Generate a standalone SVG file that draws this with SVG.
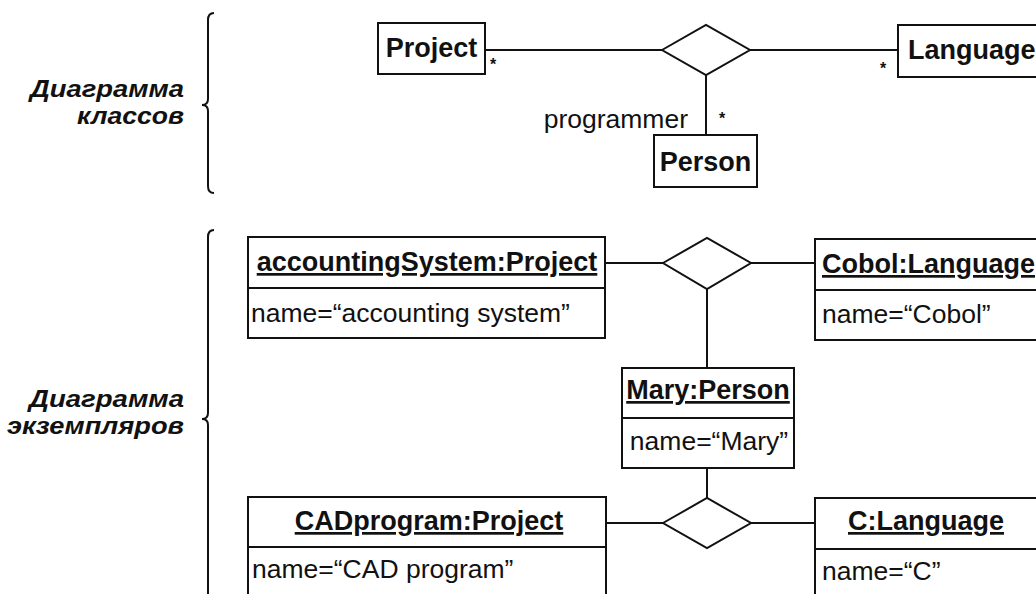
<svg xmlns="http://www.w3.org/2000/svg" width="1036" height="594" viewBox="0 0 1036 594">
  <style>
    .box { fill: #fff; stroke: #111; stroke-width: 2; }
    .div { stroke: #111; stroke-width: 2; }
    .conn { stroke: #111; stroke-width: 2; fill: none; }
    .dia { fill: #fff; stroke: #111; stroke-width: 2; }
    .brace { fill: none; stroke: #111; stroke-width: 2; }
    .cls { font-family: "Liberation Sans", Arial, sans-serif; font-weight: bold; font-size: 27px; fill: #111; }
    .obj { font-family: "Liberation Sans", Arial, sans-serif; font-weight: bold; font-size: 27px; fill: #111; text-decoration: underline; }
    .attr { font-family: "Liberation Sans", Arial, sans-serif; font-size: 26.5px; fill: #111; }
    .mult { font-family: "Liberation Sans", Arial, sans-serif; font-weight: bold; font-size: 16px; fill: #111; }
    .sect { font-family: "Liberation Sans", Arial, sans-serif; font-weight: bold; font-style: italic; font-size: 23px; fill: #111; }
  </style>

  <!-- section labels with braces -->
  <g id="label-classes">
    <text class="sect" x="184" y="97" text-anchor="end" textLength="154" lengthAdjust="spacingAndGlyphs">Диаграмма</text>
    <text class="sect" x="184" y="124" text-anchor="end" textLength="107" lengthAdjust="spacingAndGlyphs">классов</text>
    <path class="brace" d="M214,13 Q208,13 208,20 L208,99 Q208,105 202,105 Q208,105 208,111 L208,186 Q208,193 214,193"/>
  </g>
  <g id="label-instances">
    <text class="sect" x="184" y="407" text-anchor="end" textLength="155" lengthAdjust="spacingAndGlyphs">Диаграмма</text>
    <text class="sect" x="184" y="434" text-anchor="end" textLength="177" lengthAdjust="spacingAndGlyphs">экземпляров</text>
    <path class="brace" d="M214,230 Q208,230 208,237 L208,413 Q208,419 202,419 Q208,419 208,425 L208,600"/>
  </g>

  <!-- connectors -->
  <g id="connectors">
    <line class="conn" x1="485" y1="50" x2="662" y2="50"/>
    <line class="conn" x1="750" y1="50" x2="898" y2="50"/>
    <line class="conn" x1="706" y1="75" x2="706" y2="135"/>
    <polygon class="dia" points="662,50 706,25 750,50 706,75"/>

    <line class="conn" x1="605" y1="263" x2="663" y2="263"/>
    <line class="conn" x1="751" y1="263" x2="815" y2="263"/>
    <line class="conn" x1="707" y1="289" x2="707" y2="368"/>
    <polygon class="dia" points="663,263 707,238 751,263 707,289"/>

    <line class="conn" x1="707" y1="468" x2="707" y2="498"/>
    <line class="conn" x1="606" y1="523" x2="663" y2="523"/>
    <line class="conn" x1="751" y1="523" x2="815" y2="523"/>
    <polygon class="dia" points="663,523 707,498 751,523 707,548"/>

    <text class="mult" x="490" y="70">*</text>
    <text class="mult" x="880" y="74">*</text>
    <text class="mult" x="719" y="124">*</text>
    <text class="attr" x="688" y="128" text-anchor="end">programmer</text>
  </g>

  <!-- class diagram -->
  <g id="Project">
    <rect class="box" x="378" y="23" width="107" height="51"/>
    <text class="cls" x="431.5" y="57" text-anchor="middle">Project</text>
  </g>
  <g id="Language">
    <rect class="box" x="898" y="25" width="160" height="52"/>
    <text class="cls" x="908" y="59">Language</text>
  </g>
  <g id="Person">
    <rect class="box" x="654" y="135" width="103" height="52"/>
    <text class="cls" x="705.5" y="171" text-anchor="middle">Person</text>
  </g>

  <!-- instance diagram -->
  <g id="accountingSystem">
    <rect class="box" x="248" y="237" width="357" height="101"/>
    <line class="div" x1="248" y1="288" x2="605" y2="288"/>
    <text class="obj" x="427" y="271" text-anchor="middle">accountingSystem:Project</text>
    <text class="attr" x="251" y="322">name=“accounting system”</text>
  </g>
  <g id="Cobol">
    <rect class="box" x="815" y="239" width="240" height="101"/>
    <line class="div" x1="815" y1="290" x2="1055" y2="290"/>
    <text class="obj" x="822" y="273">Cobol:Language</text>
    <text class="attr" x="822" y="323">name=“Cobol”</text>
  </g>
  <g id="Mary">
    <rect class="box" x="622" y="368" width="172" height="100"/>
    <line class="div" x1="622" y1="418" x2="794" y2="418"/>
    <text class="obj" x="708" y="399" text-anchor="middle">Mary:Person</text>
    <text class="attr" x="709" y="450" text-anchor="middle">name=“Mary”</text>
  </g>
  <g id="CADprogram">
    <rect class="box" x="248" y="497" width="358" height="120"/>
    <line class="div" x1="248" y1="547" x2="606" y2="547"/>
    <text class="obj" x="429" y="530" text-anchor="middle">CADprogram:Project</text>
    <text class="attr" x="252" y="578">name=“CAD program”</text>
  </g>
  <g id="C">
    <rect class="box" x="815" y="498" width="240" height="120"/>
    <line class="div" x1="815" y1="549" x2="1055" y2="549"/>
    <text class="obj" x="848" y="530">C:Language</text>
    <text class="attr" x="822" y="580">name=“C”</text>
  </g>
</svg>
